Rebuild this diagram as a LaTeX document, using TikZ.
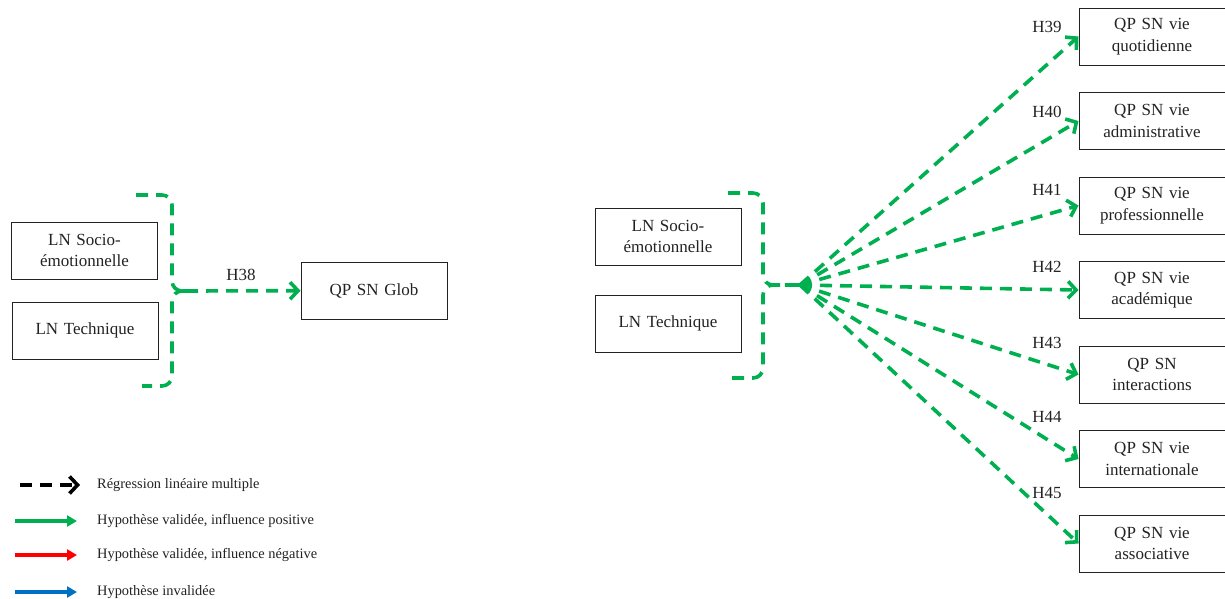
\documentclass[tikz,border=0pt]{standalone}
\usepackage{fontspec}
\setmainfont{Liberation Serif}
\usetikzlibrary{arrows.meta,positioning}
\definecolor{vert}{HTML}{00B050}
\definecolor{rouge}{HTML}{FF0000}
\definecolor{bleu}{HTML}{0070C0}
\definecolor{encre}{HTML}{222222}

\begin{document}
\begin{tikzpicture}[x=1pt, y=-1pt,
      node distance=26.5pt,
      boite/.style={rectangle, draw=encre, line width=1pt, minimum width=146pt, minimum height=57pt,
                   text width=140pt, align=center, inner sep=0pt, text=encre,
                   font=\fontsize{17}{21.5}\selectfont},
      etiq/.style={inner sep=0pt, text=encre, font=\fontsize{17}{20}\selectfont},
      legende/.style={anchor=west, inner sep=0pt, text=encre, font=\fontsize{14.4}{17}\selectfont},
      accolade/.style={draw=vert, line width=3.6pt, dash pattern=on 12pt off 8pt, rounded corners=10pt},
      fleche/.style={draw=vert, line width=3.6pt, dash pattern=on 12pt off 8pt,
                     -{Straight Barb[length=8pt, width=17pt]}},
      trait/.style={line width=3.2pt, -{Triangle[length=10pt, width=11pt]}}]

    \useasboundingbox (0,0) rectangle (1225,598);

    % modele global
    \node[boite] (socio1) at (84.5,250.5) {LN Socio-\\émotionnelle};
    \node[boite] (tech1) at (85,330.5) {LN Technique};
    \node[boite] (glob) at (374,290.5) {QP SN Glob};
    \coordinate (pointe1) at (186,291);
    \draw[accolade] (136,195) -| (172,291) -- (pointe1);
    \draw[accolade] (pointe1) -| (172,386) -- (142,386);
    \draw[fleche] (pointe1) -- (glob);
    \node[etiq] (h38) at (241,275) {H38};

    % modele par domaine
    \node[boite] (socio2) at (668,236.5) {LN Socio-\\émotionnelle};
    \node[boite] (tech2) at (668,323.5) {LN Technique};
    \coordinate (eventail) at (800,285);
    \draw[accolade] (728,193) -| (763,285) -- (eventail);
    \draw[accolade] (eventail) -| (763,378) -- (728,378);

    \node[boite] (q39) at (1152,36.5) {QP SN vie\\quotidienne};
    \node[boite, below=of q39] (q40) {QP SN vie\\administrative};
    \node[boite, below=of q40] (q41) {QP SN vie\\professionnelle};
    \node[boite, below=of q41] (q42) {QP SN vie\\académique};
    \node[boite, below=of q42] (q43) {QP SN\\interactions};
    \node[boite, below=of q43] (q44) {QP SN vie\\internationale};
    \node[boite, below=of q44] (q45) {QP SN vie\\associative};

    \foreach \n in {39,...,45}
      \draw[fleche] (eventail) -- (q\n.west);
    \foreach \n/\y in {39/27, 40/112, 41/190, 42/267, 43/343, 44/417, 45/493}
      \node[etiq] (h\n) at (1047,\y) {H\n};

    % legende
    \node[legende] (l1) at (97,485) {Régression linéaire multiple};
    \node[legende] (l2) at (97,521) {Hypothèse validée, influence positive};
    \node[legende] (l3) at (97,555) {Hypothèse validée, influence négative};
    \node[legende] (l4) at (97,592) {Hypothèse invalidée};
    \coordinate (a1) at (20,485);  \coordinate (b1) at (80,485);
    \draw[line width=3.6pt, dash pattern=on 12pt off 8pt, -{Straight Barb[length=8pt, width=17pt]}] (a1) -- (b1);
    \foreach \i/\c in {2/vert, 3/rouge, 4/bleu} {
      \coordinate (a\i) at (15,0 |- l\i.west);
      \coordinate (b\i) at (77,0 |- l\i.west);
      \draw[trait, draw=\c, fill=\c] (a\i) -- (b\i);
    }
  \end{tikzpicture}
\end{document}
